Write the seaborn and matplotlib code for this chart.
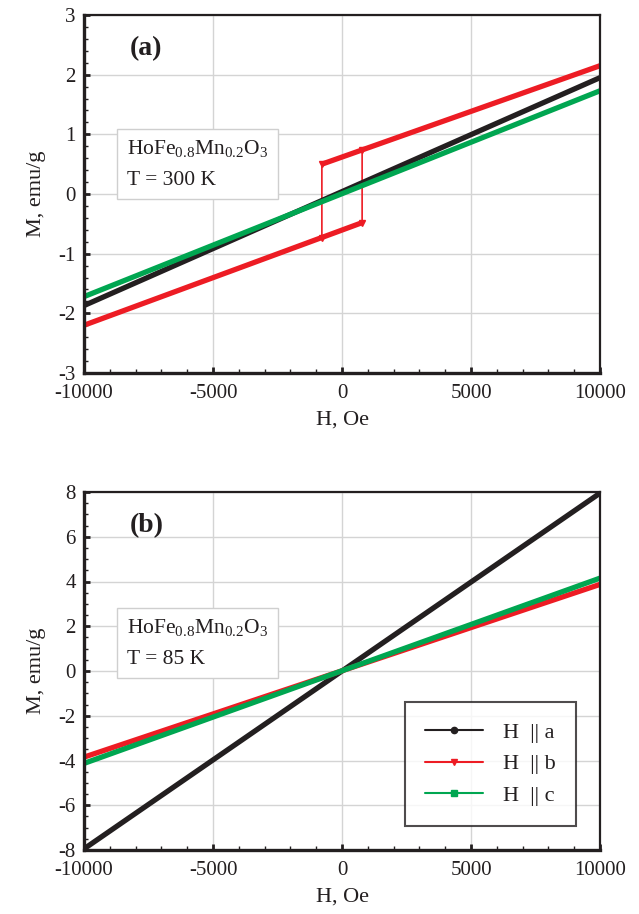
import matplotlib
matplotlib.use("Agg")
import matplotlib.pyplot as plt
import numpy as np
import pandas as pd
import seaborn as sns
from matplotlib.ticker import MultipleLocator
from matplotlib.lines import Line2D

# ---------------- data ----------------
# Panel (a): T = 300 K
H_a300 = [-10000, 10000]
M_a300 = [-1.87, 1.95]
H_c300 = [-10000, 10000]
M_c300 = [-1.72, 1.73]
# H || b hysteresis loop (descending then ascending sweep)
H_b300_loop = [10000, -780, -780, -10000, 780, 780, 10000]
M_b300_loop = [2.15, 0.50, -0.73, -2.20, -0.48, 0.73, 2.15]
# Panel (b): T = 85 K
H_85 = [-10000, 10000]
M_a85 = [-7.95, 7.95]
M_b85 = [-3.85, 3.87]
M_c85 = [-4.13, 4.15]

labels = ["H  || a", "H  || b", "H  || c"]
colors = ["#231f20", "#ed1c24", "#00a651"]
markers = ["o", "v", "s"]

sns.set_theme(style="white")
plt.rcParams["font.family"] = ["Liberation Serif", "DejaVu Serif"]
plt.rcParams["mathtext.fontset"] = "custom"
plt.rcParams["mathtext.rm"] = "Liberation Serif"
plt.rcParams["mathtext.it"] = "Liberation Serif:italic"
plt.rcParams["mathtext.default"] = "regular"
plt.rcParams["axes.unicode_minus"] = False

fig = plt.figure(figsize=(6.39, 9.14), dpi=100)
W, Hh = 639, 914
def ax_rect(l, t, r, b):
    return [l / W, 1 - b / Hh, (r - l) / W, (b - t) / Hh]

axA = fig.add_axes(ax_rect(84, 15, 600, 373))
axB = fig.add_axes(ax_rect(84, 492, 600, 850))

THICK = 3.8

def style_axis(ax, ylim, ymajor, yminor):
    ax.set_xlim(-10000, 10000)
    ax.set_ylim(*ylim)
    ax.xaxis.set_major_locator(MultipleLocator(5000))
    ax.xaxis.set_minor_locator(MultipleLocator(1000))
    ax.yaxis.set_major_locator(MultipleLocator(ymajor))
    ax.yaxis.set_minor_locator(MultipleLocator(yminor))
    ax.grid(True, which="major", color="#d4d4d4", lw=1.0)
    ax.set_axisbelow(True)
    ax.tick_params(which="both", direction="in", top=False, right=False,
                   bottom=True, left=True, colors="#231f20", labelcolor="#231f20",
                   labelsize=15, pad=6)
    ax.tick_params(axis="x", which="both", pad=8)
    ax.tick_params(which="major", length=4, width=2)
    ax.tick_params(which="minor", length=3, width=1)
    for s in ["bottom", "left"]:
        ax.spines[s].set_linewidth(2.4)
        ax.spines[s].set_color("#231f20")
    for s in ["top", "right"]:
        ax.spines[s].set_linewidth(1.6)
        ax.spines[s].set_color("#231f20")
    ax.set_xlabel("H, Oe", fontsize=16, color="#231f20", labelpad=5)
    ax.set_ylabel("M, emu/g", fontsize=16, color="#231f20", labelpad=9)

box_style = dict(boxstyle="square,pad=0.45", fc="white", ec="#cfcfcf", lw=1.0)

# ---------- panel (a) ----------
dfa = pd.DataFrame({"H": H_a300, "M": M_a300})
dfc = pd.DataFrame({"H": H_c300, "M": M_c300})
dfb = pd.DataFrame({"H": H_b300_loop, "M": M_b300_loop})
sns.lineplot(data=dfb, x="H", y="M", sort=False, estimator=None, ax=axA,
             color=colors[1], lw=1.2)
# thick branches of loop
up = dfb.iloc[[1, 0]]
low = dfb.iloc[[3, 4]]
for part in (up, low):
    sns.lineplot(data=part, x="H", y="M", sort=False, estimator=None, ax=axA,
                 color=colors[1], lw=THICK, solid_capstyle="butt")
axA.plot(dfb["H"].iloc[[1, 2, 4, 5]], dfb["M"].iloc[[1, 2, 4, 5]], ls="none",
         marker="v", ms=4, color=colors[1])
sns.lineplot(data=dfa, x="H", y="M", ax=axA, color=colors[0], lw=THICK, solid_capstyle="butt")
sns.lineplot(data=dfc, x="H", y="M", ax=axA, color=colors[2], lw=THICK, solid_capstyle="butt")
style_axis(axA, (-3, 3), 1, 0.2)
axA.text(0.089, 0.94, "(a)", transform=axA.transAxes, fontsize=20,
         fontweight="bold", ha="left", va="top", color="#231f20")
axA.text(0.083, 0.584, "HoFe$_{0.8}$Mn$_{0.2}$O$_3$\nT = 300 K", transform=axA.transAxes,
         fontsize=15.5, ha="left", va="center", color="#231f20", linespacing=1.8,
         bbox=box_style)

# ---------- panel (b) ----------
for M, c in zip([M_a85, M_b85, M_c85], colors):
    sns.lineplot(x=H_85, y=M, ax=axB, color=c, lw=THICK, solid_capstyle="butt")
style_axis(axB, (-8, 8), 2, 0.5)
axB.text(0.089, 0.94, "(b)", transform=axB.transAxes, fontsize=20,
         fontweight="bold", ha="left", va="top", color="#231f20")
axB.text(0.083, 0.578, "HoFe$_{0.8}$Mn$_{0.2}$O$_3$\nT = 85 K", transform=axB.transAxes,
         fontsize=15.5, ha="left", va="center", color="#231f20", linespacing=1.8,
         bbox=box_style)

handles = [Line2D([0], [0], color=c, lw=1.5, marker=m, ms=4.5) for c, m in zip(colors, markers)]
leg = axB.legend(handles, labels, loc="lower right", bbox_to_anchor=(0.953, 0.067),
                 fontsize=16, frameon=True, fancybox=False, edgecolor="#231f20",
                 handlelength=2.6, handletextpad=0.9, borderpad=0.9, labelspacing=0.5,
                 borderaxespad=0)
leg.get_frame().set_linewidth(1.5)
for t in leg.get_texts():
    t.set_color("#231f20")

fig.savefig("out.png", dpi=100)
